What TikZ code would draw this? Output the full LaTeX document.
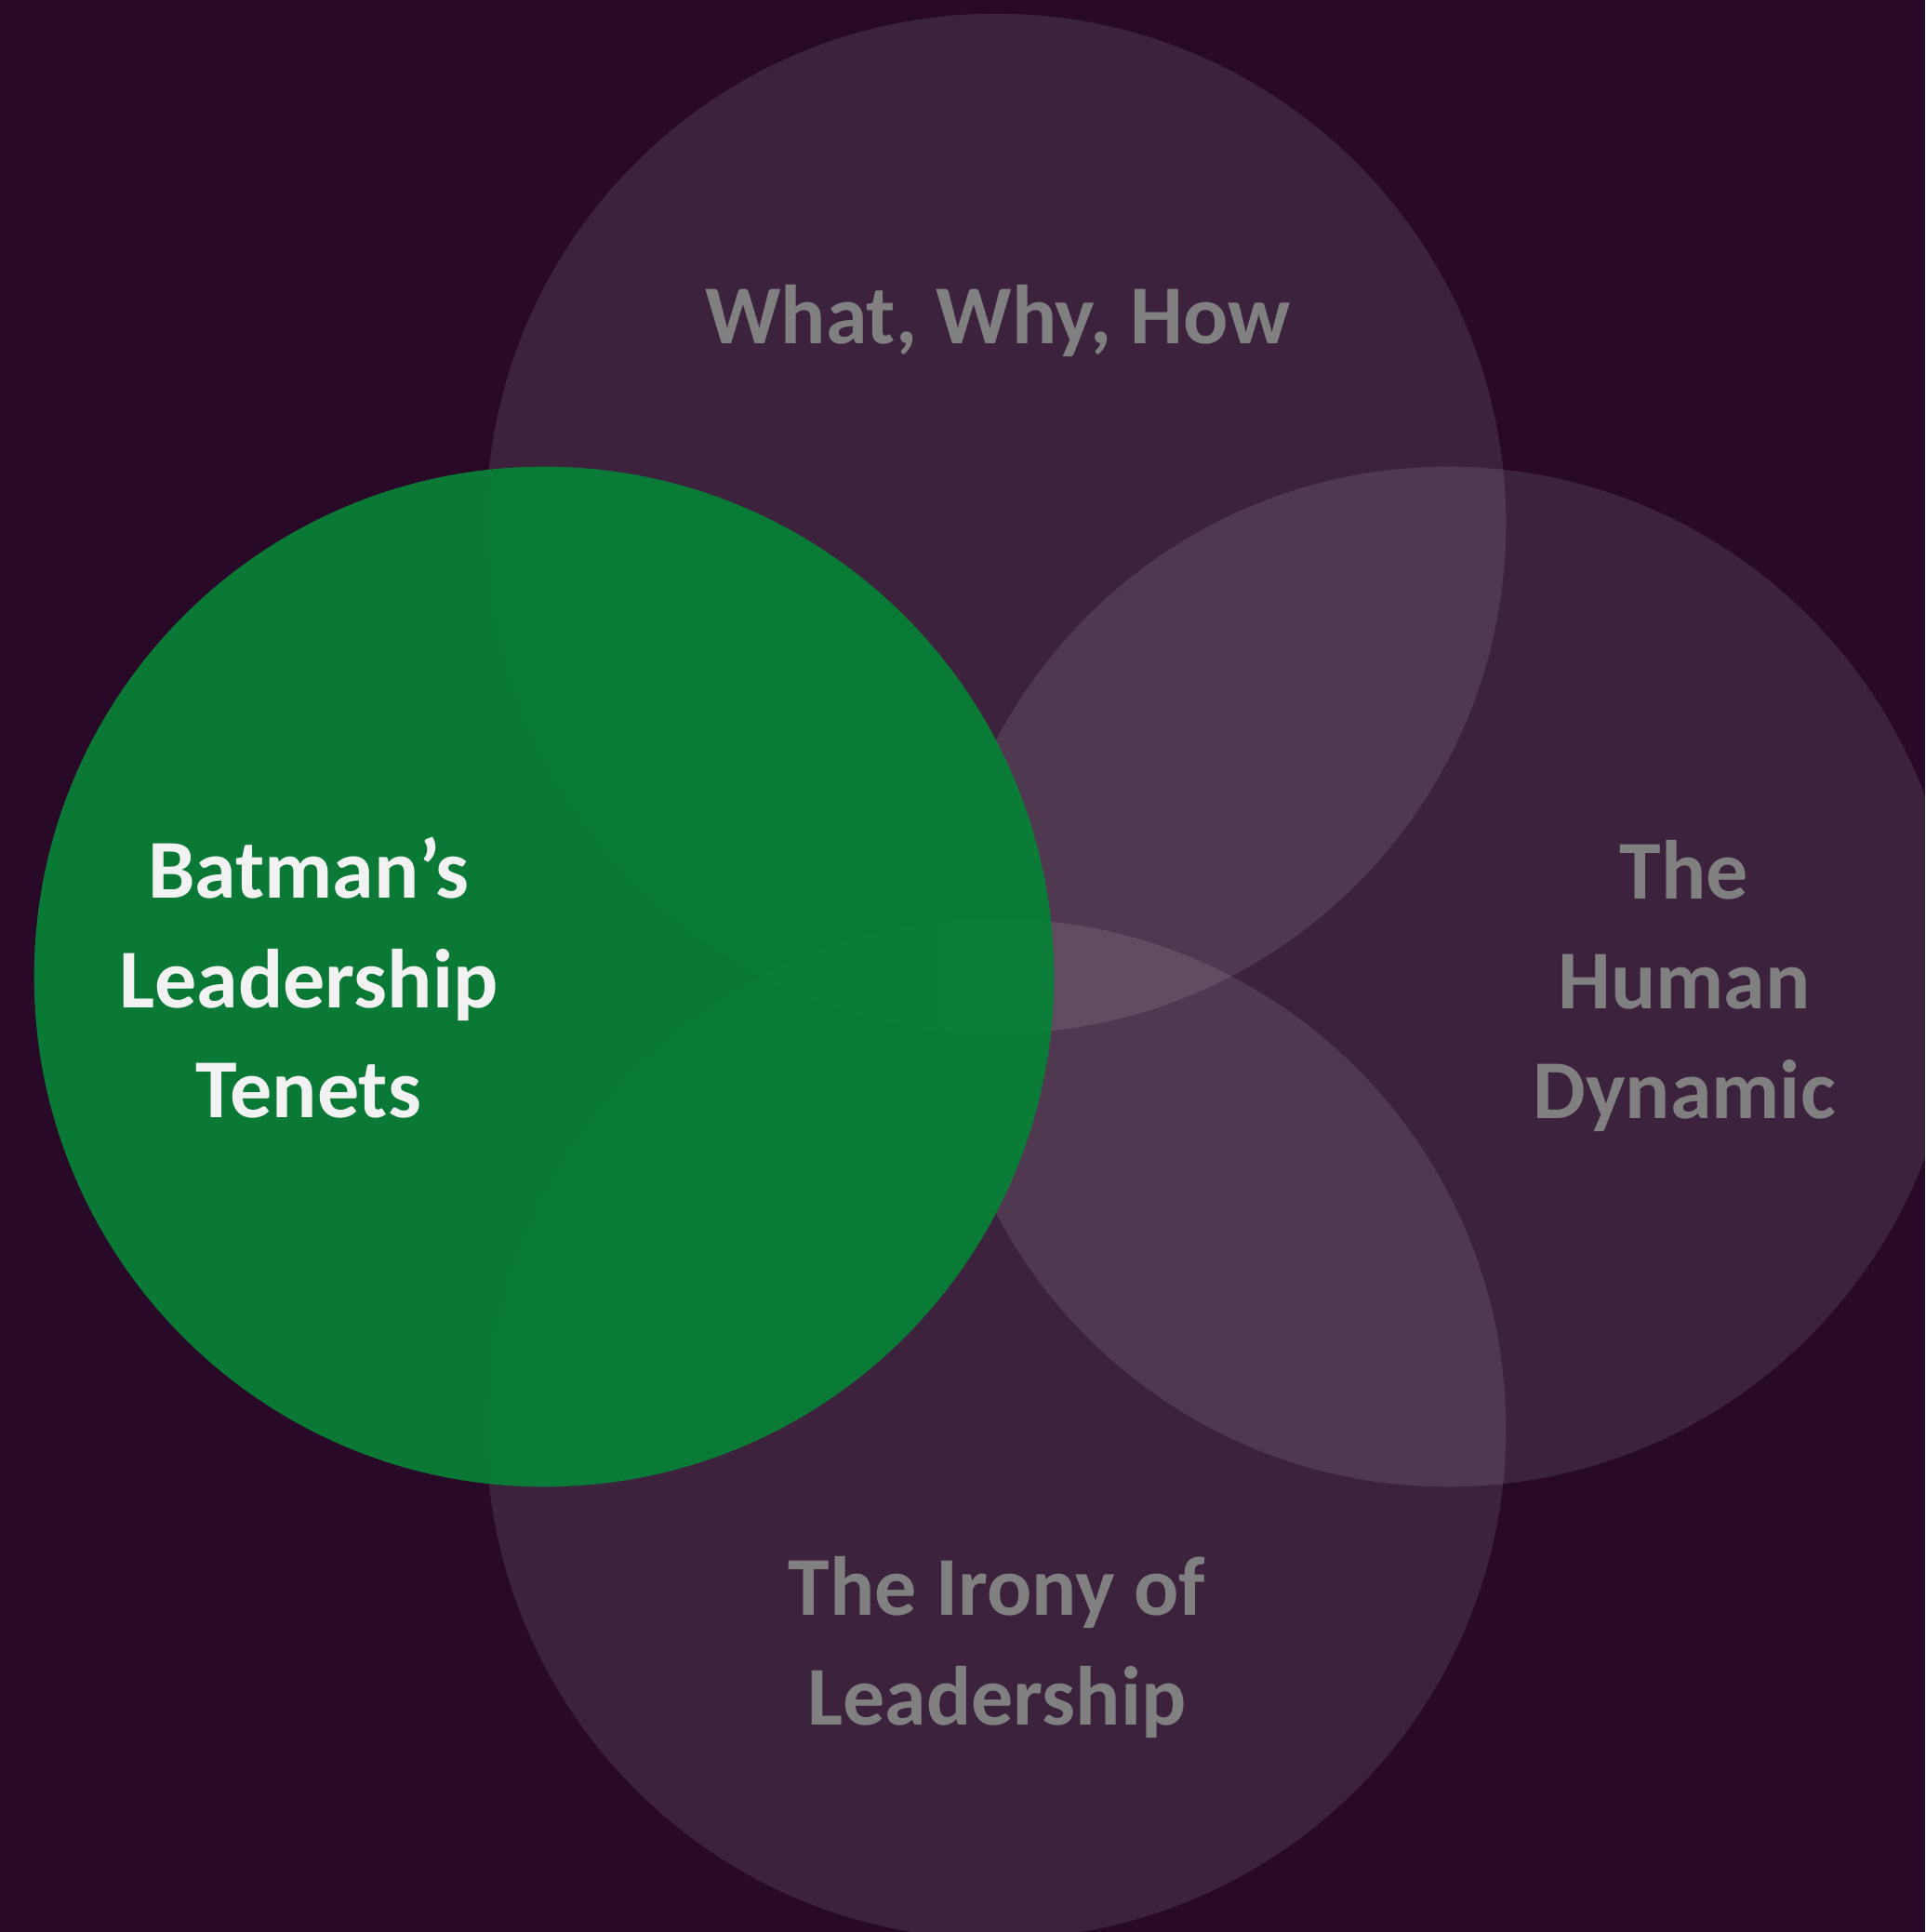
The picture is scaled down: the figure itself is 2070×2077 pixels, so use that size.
\documentclass[tikz,border=0pt]{standalone}
\usepackage{fontspec}
\setmainfont{Carlito}
\definecolor{bgpurple}{HTML}{280A28}
\definecolor{leafgreen}{HTML}{088036}
\definecolor{dimtext}{HTML}{808080}
\definecolor{brighttext}{HTML}{F2F2F2}

\begin{document}
\begin{tikzpicture}[x=0.01cm,y=-0.01cm,
    ring/.style={circle,inner sep=0pt,minimum size=10.96cm,fill=white,fill opacity=0.1},
    mainring/.style={ring,fill=leafgreen,fill opacity=0.95},
    caption/.style={align=center,text=dimtext,font=\bfseries\fontsize{25.6}{33.6}\selectfont}]
  \useasboundingbox (0,0) rectangle (2070,2077);
  \clip (0,0) rectangle (2070,2077);
  \fill [bgpurple] (0,0) rectangle (2070,2077);

  \node [ring]     at (1071,563)  (Top)    {};
  \node [ring]     at (1557,1050) (Right)  {};
  \node [ring]     at (1071,1536) (Bottom) {};
  \node [mainring] at (585,1050)  (Left)  {};

  \node [caption] at (1073,345)  (TopText)    {What, Why, How};
  \node [caption] at (1811,1060) (RightText)  {The\\Human\\Dynamic};
  \node [caption] at (1072,1771) (BottomText) {The Irony of\\Leadership};
  \node [caption,text=brighttext] at (332,1051) (LeftText) {Batman’s\\Leadership\\Tenets};
\end{tikzpicture}
\end{document}
